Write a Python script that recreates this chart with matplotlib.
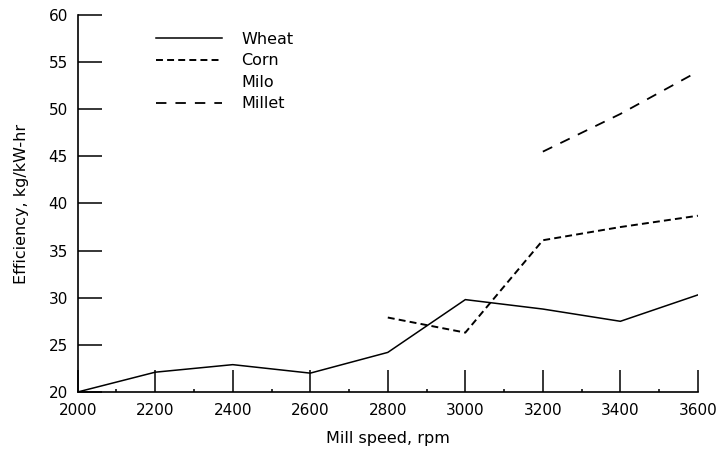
import matplotlib
matplotlib.use("Agg")
import matplotlib.pyplot as plt
from matplotlib.lines import Line2D
from matplotlib.ticker import MultipleLocator

plt.rcParams['font.family'] = ['Liberation Sans Narrow', 'DejaVu Sans']
plt.rcParams['lines.scale_dashes'] = False

speed = [2000, 2200, 2400, 2600, 2800, 3000, 3200, 3400, 3600]
wheat = [20.0, 22.1, 22.9, 22.0, 24.2, 29.8, 28.8, 27.5, 30.3]
corn_speed = [2800, 3000, 3200, 3400, 3600]
corn = [27.9, 26.3, 36.1, 37.5, 38.7]
millet_speed = [3200, 3400, 3600]
millet = [45.5, 49.5, 54.0]
legend_labels = ["Wheat", "Corn", "Milo", "Millet"]
x_ticks = [2000, 2200, 2400, 2600, 2800, 3000, 3200, 3400, 3600]
y_ticks = [20, 25, 30, 35, 40, 45, 50, 55, 60]

fig = plt.figure(figsize=(7.18, 4.54), dpi=100)
ax = fig.add_axes([0.1082, 0.1366, 0.8638, 0.8304])

lw = 1.1
ax.plot(speed, wheat, color='black', lw=lw, solid_joinstyle='miter')
ax.plot(corn_speed, corn, color='black', lw=lw + 0.3, dashes=(5, 3))
ax.plot(millet_speed, millet, color='black', lw=lw + 0.2, dashes=(7.5, 6.5))

ax.set_xlim(2000, 3600)
ax.set_ylim(20, 60)
ax.set_xticks(x_ticks)
ax.set_yticks(y_ticks)
ax.xaxis.set_minor_locator(MultipleLocator(100))
ax.tick_params(axis='x', which='major', direction='in', length=16, width=1.1, labelsize=11, pad=8)
ax.tick_params(axis='x', which='minor', direction='in', length=2.5, width=1.1)
ax.tick_params(axis='y', which='major', direction='in', length=17, width=1.1, labelsize=11, pad=7)
for s in ['top', 'right']:
    ax.spines[s].set_visible(False)
for s in ['left', 'bottom']:
    ax.spines[s].set_linewidth(1.2)

ax.set_xlabel("Mill speed, rpm", fontsize=11.5, labelpad=9)
ax.set_ylabel("Efficiency, kg/kW-hr", fontsize=11.5, labelpad=14)

handles = [
    Line2D([], [], color='black', lw=lw),
    Line2D([], [], color='black', lw=lw + 0.3, dashes=(5, 3)),
    Line2D([], [], linestyle='none'),
    Line2D([], [], color='black', lw=lw + 0.2, dashes=(7.5, 6.5)),
]
ax.legend(handles, legend_labels, loc='upper left', bbox_to_anchor=(0.127, 0.955),
          frameon=False, fontsize=11.5, handlelength=4.1, handletextpad=1.2,
          labelspacing=0.4, borderaxespad=0, borderpad=0)

fig.savefig("out.png", dpi=100)
